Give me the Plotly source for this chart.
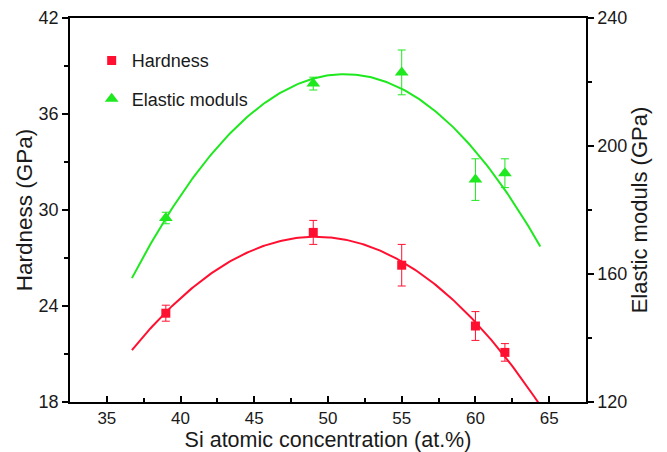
import numpy as np
import plotly.graph_objects as go

# Data
si_conc = [39, 49, 55, 60, 62]
hardness = [23.55, 28.6, 26.55, 22.75, 21.1]
hardness_err = [0.5, 0.75, 1.3, 0.9, 0.55]
elastic = [177.5, 219.5, 223.0, 189.5, 191.5]
elastic_err = [1.8, 2.0, 7.0, 6.5, 4.5]
fit_x_range = [36.7, 64.4]

x_ticks = [35, 40, 45, 50, 55, 60, 65]
h_ticks = [18, 24, 30, 36, 42]
e_ticks = [120, 160, 200, 240]

RED = "#ff1030"
GREEN = "#1ee81e"
FONT = "Liberation Sans, Arial, sans-serif"
TXT = "#1a1a1a"

xf = np.linspace(fit_x_range[0], fit_x_range[1], 200)
h_fit = np.polyval(np.polyfit(si_conc, hardness, 2), xf)
e_fit = np.polyval(np.polyfit(si_conc, elastic, 2), xf)

fig = go.Figure()
fig.add_trace(go.Scatter(x=xf, y=h_fit, mode="lines", line=dict(color=RED, width=2),
                         showlegend=False, hoverinfo="skip"))
fig.add_trace(go.Scatter(x=xf, y=e_fit, mode="lines", line=dict(color=GREEN, width=2),
                         showlegend=False, hoverinfo="skip", yaxis="y2"))
fig.add_trace(go.Scatter(x=si_conc, y=hardness, mode="markers", name="Hardness",
                         marker=dict(symbol="square", size=9, color=RED),
                         error_y=dict(type="data", array=hardness_err, color=RED, thickness=1, width=4),
                         legendgroup="h"))
fig.add_trace(go.Scatter(x=si_conc, y=elastic, mode="markers", name="Elastic moduls",
                         marker=dict(symbol="triangle-up", size=12, color=GREEN),
                         error_y=dict(type="data", array=elastic_err, color=GREEN, thickness=1, width=4),
                         legendgroup="e", yaxis="y2"))

axis_common = dict(showgrid=False, zeroline=False, showline=True, linecolor="black", linewidth=1.5,
                   tickcolor="black", tickwidth=1.5, ticklen=6, automargin=False)

fig.update_layout(
    width=667, height=452,
    margin=dict(l=70, r=81, t=18, b=50),
    plot_bgcolor="white", paper_bgcolor="white",
    font=dict(family=FONT, size=18, color=TXT),
    xaxis=dict(range=[32.5, 67.5], tickvals=x_ticks, ticks="inside", mirror=True,
               tickfont=dict(family=FONT, size=17, color=TXT),
               minor=dict(dtick=2.5, tick0=32.5, ticks="inside", ticklen=4, tickcolor="black", tickwidth=1.5),
               title=dict(text="Si atomic concentration (at.%)", standoff=8,
                          font=dict(family=FONT, size=21.5, color=TXT)), **axis_common),
    yaxis=dict(range=[18, 42], tickvals=h_ticks, ticks="outside",
               tickfont=dict(family=FONT, size=18, color=TXT),
               minor=dict(dtick=3, tick0=18, ticks="outside", ticklen=4, tickcolor="black", tickwidth=1.5),
               title=dict(text="Hardness (GPa)", standoff=0,
                          font=dict(family=FONT, size=22.5, color=TXT)), **axis_common),
    yaxis2=dict(range=[120, 240], tickvals=e_ticks, ticks="outside", overlaying="y", side="right",
                tickfont=dict(family=FONT, size=18, color=TXT),
                minor=dict(dtick=20, tick0=120, ticks="outside", ticklen=4, tickcolor="black", tickwidth=1.5),
                title=dict(text="Elastic moduls (GPa)", standoff=5,
                           font=dict(family=FONT, size=22, color=TXT)), **axis_common),
    legend=dict(x=0.042, y=0.937, xanchor="left", yanchor="top", bgcolor="rgba(0,0,0,0)",
                font=dict(family=FONT, size=18, color=TXT), tracegroupgap=12,
                traceorder="grouped"),
)

fig.write_html("out.html", config={"displayModeBar": False},
               post_script="document.body.style.margin='0';document.body.style.overflow='hidden';")
